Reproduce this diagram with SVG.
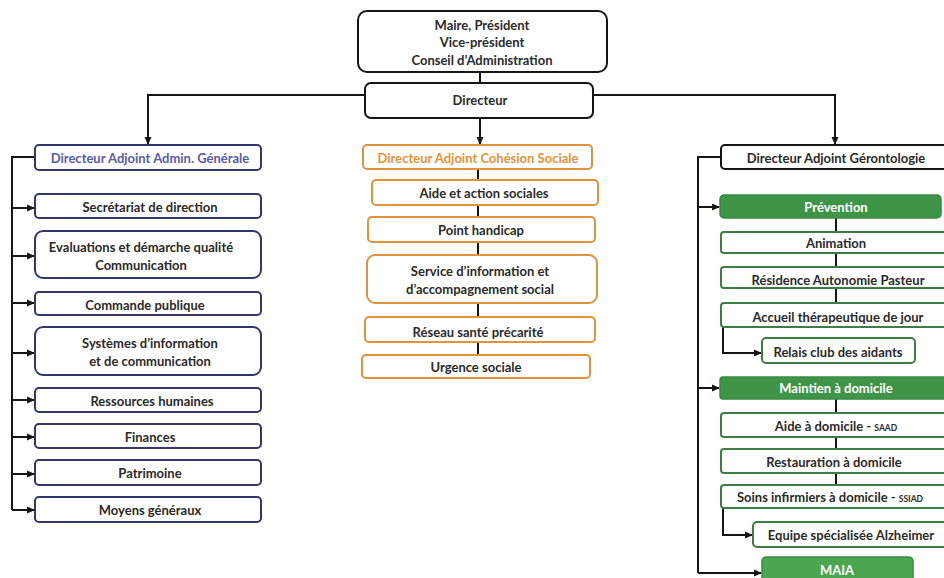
<svg xmlns="http://www.w3.org/2000/svg" width="944" height="578" viewBox="0 0 944 578">
<defs>
<style>
text{font-family:Lato,"Liberation Sans",sans-serif;font-weight:bold;font-size:13px;fill:#2a2a2a;text-anchor:middle}
.k rect{fill:#fff;stroke:#151515;stroke-width:2}
.n rect{fill:#fff;stroke:#35356e;stroke-width:2}
.o rect{fill:#fff;stroke:#e3923a;stroke-width:2}
.g rect{fill:#fff;stroke:#3d7f42;stroke-width:2}
.gf rect{fill:#3f9547;stroke:#3a8a42;stroke-width:1.5}
.gf text{fill:#fff}
.hn{fill:#5a5aa6}
.ho{fill:#e8923a}
.sm{font-size:8.5px}
#connectors path{fill:none;stroke:#151515;stroke-width:2}
</style>
<marker id="ar" markerWidth="8" markerHeight="8" refX="7" refY="4" orient="auto" markerUnits="userSpaceOnUse">
<path d="M0,0.5 L8,4 L0,7.5 z" fill="#151515"/>
</marker>
</defs>
<rect width="944" height="578" fill="#fff"/>
<g id="connectors">
<path d="M480,72 V83"/>
<path d="M480,118 V144" marker-end="url(#ar)"/>
<path d="M365,95 H148 V144" marker-end="url(#ar)"/>
<path d="M593,95 H835 V144" marker-end="url(#ar)"/>
<path d="M35,157 H12 V510"/>
<path d="M12,208 H34" marker-end="url(#ar)"/>
<path d="M12,256 H34" marker-end="url(#ar)"/>
<path d="M12,303 H34" marker-end="url(#ar)"/>
<path d="M12,353 H34" marker-end="url(#ar)"/>
<path d="M12,400 H34" marker-end="url(#ar)"/>
<path d="M12,437 H34" marker-end="url(#ar)"/>
<path d="M12,474 H34" marker-end="url(#ar)"/>
<path d="M12,510 H34" marker-end="url(#ar)"/>
<path d="M478,169 V180 M478,205 V217 M478,242 V255 M478,303 V317 M478,342 V355"/>
<path d="M721,157 H698 V573"/>
<path d="M698,207 H719" marker-end="url(#ar)"/>
<path d="M698,388 H719" marker-end="url(#ar)"/>
<path d="M698,573 H761" marker-end="url(#ar)"/>
<path d="M836,218 V232 M836,253 V267 M836,288 V303 M836,399 V413 M836,437 V449 M836,473 V485"/>
<path d="M723,327 V353 H761" marker-end="url(#ar)"/>
<path d="M723,508 V535 H752" marker-end="url(#ar)"/>
</g>
<g id="maire" class="k"><rect x="358" y="11" width="249" height="61" rx="9"/><text x="482" y="30">Maire, Président</text><text x="482" y="47">Vice-président</text><text x="482" y="65">Conseil d’Administration</text></g>
<g id="directeur" class="k"><rect x="365" y="83" width="228" height="35" rx="6"/><text x="480" y="105">Directeur</text></g>

<g id="da-admin" class="n"><rect x="35" y="145" width="226" height="25" rx="4"/><text class="hn" x="150" y="163">Directeur Adjoint Admin. Générale</text></g>
<g id="secretariat" class="n"><rect x="35" y="194" width="226" height="24" rx="4"/><text x="150" y="212">Secrétariat de direction</text></g>
<g id="evaluations" class="n"><rect x="35" y="231" width="226" height="47" rx="8"/><text x="141" y="252">Evaluations et démarche qualité</text><text x="141" y="270">Communication</text></g>
<g id="commande" class="n"><rect x="35" y="292" width="226" height="23" rx="4"/><text x="145" y="310">Commande publique</text></g>
<g id="systemes" class="n"><rect x="35" y="327" width="226" height="48" rx="8"/><text x="150" y="348">Systèmes d’information</text><text x="150" y="366">et de communication</text></g>
<g id="rh" class="n"><rect x="35" y="388" width="226" height="24" rx="4"/><text x="152" y="406">Ressources humaines</text></g>
<g id="finances" class="n"><rect x="35" y="424" width="226" height="24" rx="4"/><text x="150" y="442">Finances</text></g>
<g id="patrimoine" class="n"><rect x="35" y="460" width="226" height="25" rx="4"/><text x="150" y="478">Patrimoine</text></g>
<g id="moyens" class="n"><rect x="35" y="497" width="226" height="25" rx="4"/><text x="150" y="515">Moyens généraux</text></g>

<g id="da-cohesion" class="o"><rect x="363" y="145" width="229" height="24" rx="4"/><text class="ho" x="478" y="163">Directeur Adjoint Cohésion Sociale</text></g>
<g id="aide-action" class="o"><rect x="372" y="180" width="226" height="25" rx="4"/><text x="484" y="198">Aide et action sociales</text></g>
<g id="handicap" class="o"><rect x="368" y="217" width="227" height="25" rx="4"/><text x="481" y="235">Point handicap</text></g>
<g id="service-info" class="o"><rect x="367" y="255" width="230" height="48" rx="8"/><text x="480" y="276">Service d’information et</text><text x="480" y="294">d’accompagnement social</text></g>
<g id="reseau" class="o"><rect x="365" y="317" width="230" height="25" rx="4"/><text x="478" y="337">Réseau santé précarité</text></g>
<g id="urgence" class="o"><rect x="362" y="355" width="228" height="23" rx="4"/><text x="476" y="372">Urgence sociale</text></g>

<g id="da-geronto" class="k"><rect x="721" y="145" width="226" height="24" rx="4"/><text x="836" y="163">Directeur Adjoint Gérontologie</text></g>
<g id="prevention" class="gf"><rect x="720" y="195" width="221" height="23" rx="4"/><text x="836" y="212">Prévention</text></g>
<g id="animation" class="g"><rect x="721" y="232" width="226" height="21" rx="3"/><text x="836" y="248">Animation</text></g>
<g id="residence" class="g"><rect x="721" y="267" width="226" height="21" rx="3"/><text x="838" y="285">Résidence Autonomie Pasteur</text></g>
<g id="accueil" class="g"><rect x="721" y="303" width="226" height="24" rx="3"/><text x="838" y="322">Accueil thérapeutique de jour</text></g>
<g id="relais" class="g"><rect x="762" y="338" width="153" height="25" rx="4"/><text x="838" y="357">Relais club des aidants</text></g>
<g id="maintien" class="gf"><rect x="720" y="377" width="226" height="22" rx="3"/><text x="836" y="393">Maintien à domicile</text></g>
<g id="aide-domicile" class="g"><rect x="721" y="413" width="226" height="24" rx="3"/><text x="836" y="431">Aide à domicile - <tspan class="sm">SAAD</tspan></text></g>
<g id="restauration" class="g"><rect x="721" y="449" width="226" height="24" rx="3"/><text x="834" y="467">Restauration à domicile</text></g>
<g id="soins" class="g"><rect x="721" y="485" width="226" height="23" rx="3"/><text x="830" y="502">Soins infirmiers à domicile - <tspan class="sm">SSIAD</tspan></text></g>
<g id="equipe" class="g"><rect x="753" y="522" width="194" height="25" rx="4"/><text x="851" y="540">Equipe spécialisée Alzheimer</text></g>
<g id="maia" class="gf"><rect x="762" y="557" width="151" height="30" rx="4" style="fill:#4aa651"/><text x="837" y="575">MAIA</text></g>
</svg>
